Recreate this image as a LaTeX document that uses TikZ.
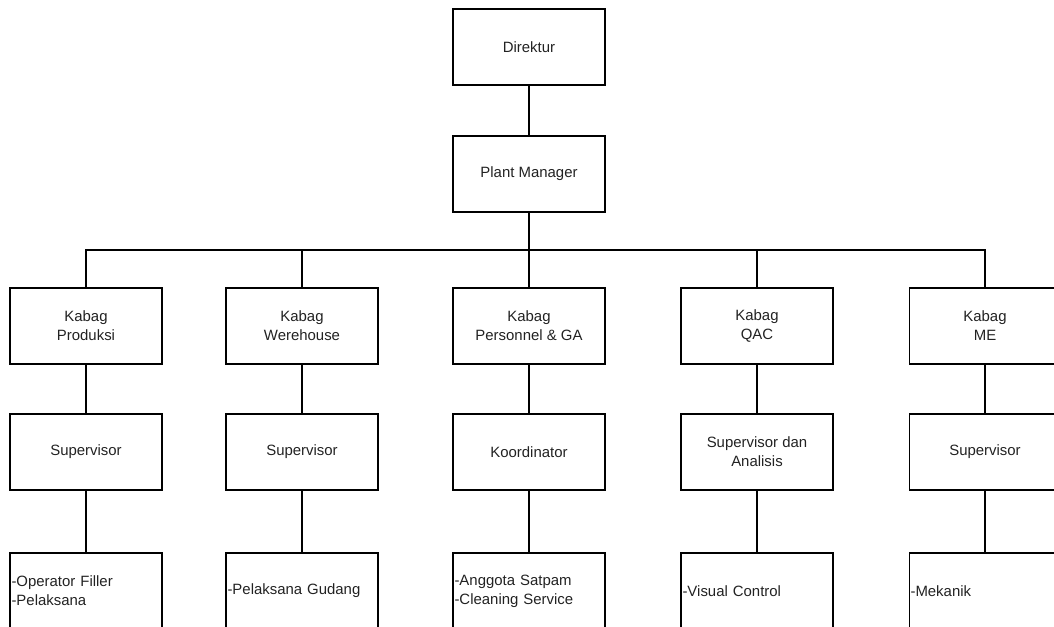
\documentclass[tikz,border=0pt]{standalone}
\usepackage{fontspec}
\setmainfont{Liberation Sans}
\definecolor{inkgray}{HTML}{222222}
\tikzset{
    unit/.style={draw, line width=0.6pt, minimum width=3.04cm, minimum height=1.52cm,
        align=center, text=inkgray, font=\fontsize{8.5}{10.8}\selectfont},
    staff/.style={unit, text width=2.98cm, inner xsep=0.03cm, align=left},
    link/.style={line width=0.6pt}
}
\begin{document}
\begin{tikzpicture}[x=0.02cm, y=-0.02cm]
\clip (0,0) rectangle (1054,626);
\useasboundingbox (0,0) rectangle (1054,626);
% top of the chart
\node[unit] (dir) at (529,47) {Direktur};
\node[unit] (pm) at (529,174) {Plant Manager};
\coordinate (bus) at (529,250);
% heads of department
\node[unit] (kprod) at (86,326) {Kabag\\Produksi};
\node[unit] (kwh) at (302,326) {Kabag\\Werehouse};
\node[unit] (kga) at (529,326) {Kabag\\Personnel \& GA};
\node[unit] (kqac) at (757,326) {Kabag\\QAC};
\node[unit] (kme) at (985,326) {Kabag\\ME};
% second level
\node[unit] (sprod) at (86,452) {Supervisor};
\node[unit] (swh) at (302,452) {Supervisor};
\node[unit] (sga) at (529,452) {Koordinator};
\node[unit] (sqac) at (757,452) {Supervisor dan\\Analisis};
\node[unit] (sme) at (985,452) {Supervisor};
% staff
\node[staff] (tprod) at (86,591) {-Operator Filler\\-Pelaksana};
\node[staff] (twh) at (302,591) {-Pelaksana Gudang};
\node[staff] (tga) at (529,591) {-Anggota Satpam\\-Cleaning Service};
\node[staff] (tqac) at (757,591) {-Visual Control};
\node[staff] (tme) at (985,591) {-Mekanik};

\draw[link] (dir) -- (pm);
\draw[link] (pm) -- (bus);
\draw[link] (kprod) |- (bus);
\draw[link] (kwh) |- (bus);
\draw[link] (kga) -- (bus);
\draw[link] (kqac) |- (bus);
\draw[link] (kme) |- (bus);
\draw[link] (kprod) -- (sprod) -- (tprod);
\draw[link] (kwh) -- (swh) -- (twh);
\draw[link] (kga) -- (sga) -- (tga);
\draw[link] (kqac) -- (sqac) -- (tqac);
\draw[link] (kme) -- (sme) -- (tme);
\end{tikzpicture}
\end{document}
